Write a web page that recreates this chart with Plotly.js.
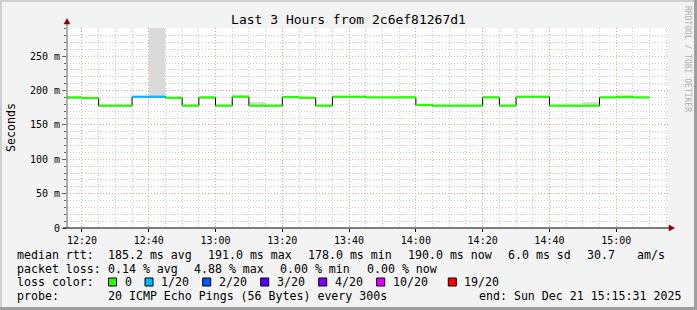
<!DOCTYPE html>
<html>
<head>
<meta charset="utf-8">
<script src="https://cdn.plot.ly/plotly-3.0.1.min.js"></script>
<style>
html,body{margin:0;padding:0;background:#f3f3f3;}
#chart{width:697px;height:310px;}
</style>
</head>
<body>
<div id="chart"></div>
<script>
// ---- data ----
const stepStartHHMM = ['12:15','12:20','12:25','12:30','12:35','12:40','12:45','12:50','12:55','13:00',
  '13:05','13:10','13:15','13:20','13:25','13:30','13:35','13:40','13:45','13:50',
  '13:55','14:00','14:05','14:10','14:15','14:20','14:25','14:30','14:35','14:40',
  '14:45','14:50','14:55','15:00','15:05'];
const lastStepEnd = '15:10';
const medianMs = [190,189,178,178,191,191,189.5,178,190,178,
  191,178,178,190.5,189.5,178,191,191,190,190,
  190,179,178,178,178,190,178,191,191,178,
  178,178,190,191,190];
const lossLevel = [0,0,0,0,1,1,0,0,0,0,
  0,0,0,0,0,0,0,0,0,0,
  0,0,0,0,0,0,0,0,0,0,
  0,0,0,0,0];
const smokeLo = [188,null,null,null,null,191,null,null,187,null,
  191,178,null,190.5,null,null,188.5,188.5,null,null,
  190,null,null,null,null,190,null,null,191,null,
  null,178,null,188,null];
const smokeHi = [190,null,null,null,null,291,null,null,190,null,
  193,184,null,192.5,null,null,191,191,null,null,
  192,null,null,null,null,192,null,null,192.5,null,
  null,184,null,191,null];
const lossLabels = ['0','1/20','2/20','3/20','4/20','10/20','19/20'];
const lossColors = ['#26ff00','#00b8ff','#0059ff','#5e00ff','#7e00ff','#dd00ff','#ff0000'];
const yTickVals = [0,50,100,150,200,250];
const yTickText = ['0','50 m','100 m','150 m','200 m','250 m'];
const day = '2025-12-21';
const rangeStart = day + ' 12:15:31';
const rangeEnd = day + ' 15:15:31';
const titleText = 'Last 3 Hours from 2c6ef81267d1';
const statsRtt = ['median rtt:','185.2 ms avg','191.0 ms max','178.0 ms min','190.0 ms now','6.0 ms sd','30.7','am/s'];
const statsLoss = ['packet loss:','0.14 % avg','4.88 % max','0.00 % min','0.00 % now'];
const probeLine = ['probe:','20 ICMP Echo Pings (56 Bytes) every 300s','end: Sun Dec 21 15:15:31 2025'];

// ---- layout geometry ----
const W = 697, H = 310;
const L = 67, R = 668, T = 28, B = 228;
const xp = px => (px - L) / (R - L);
const yp = py => (B - py) / (B - T);
const FONT = 'DejaVu Sans Mono';

const ts = hm => day + ' ' + hm + ':00';
const starts = stepStartHHMM.map(ts);
const ends = stepStartHHMM.slice(1).map(ts).concat([ts(lastStepEnd)]);

const traces = [];
// smoke
traces.push({
  type: 'bar',
  x: starts,
  base: smokeLo,
  y: smokeLo.map((lo, i) => lo === null ? null : smokeHi[i] - lo),
  width: 300000, offset: 0,
  marker: {color: '#dadada', line: {width: 0}},
  hoverinfo: 'skip', showlegend: false
});
// step connectors
traces.push({
  type: 'scatter', mode: 'lines',
  x: starts.concat([ends[ends.length - 1]]),
  y: medianMs.concat([medianMs[medianMs.length - 1]]),
  line: {shape: 'hv', color: '#000000', width: 1},
  hoverinfo: 'skip', showlegend: false
});
// colored median segments per loss level
lossColors.forEach((c, lvl) => {
  const x = [], y = [];
  medianMs.forEach((v, i) => {
    if (lossLevel[i] === lvl) { x.push(starts[i], ends[i], null); y.push(v, v, null); }
  });
  if (x.length) traces.push({type: 'scatter', mode: 'lines', x, y,
    line: {color: c, width: 2.2}, hoverinfo: 'skip', showlegend: false, connectgaps: false});
});

const annotations = [];
const shapes = [];
function txt(px, py, text, opts) {
  annotations.push(Object.assign({xref: 'paper', yref: 'paper', x: xp(px - 1), y: yp(py),
    xanchor: 'left', yanchor: 'middle', text, showarrow: false,
    font: {family: FONT, size: 11.6, color: '#000'}}, opts || {}));
}
// stats lines
const rttX = [16, 107, 207, 307, 407, 507, 586, 636];
statsRtt.forEach((s, i) => txt(rttX[i], 255, s));
const lossX = [16, 107, 193, 279, 366];
statsLoss.forEach((s, i) => txt(lossX[i], 268.5, s));
txt(16, 282, 'loss color:');
const boxX = [108.5, 145, 202.7, 260.7, 318.7, 376.7, 448.3];
lossLabels.forEach((lab, i) => {
  shapes.push({type: 'rect', xref: 'paper', yref: 'paper',
    x0: xp(boxX[i]), x1: xp(boxX[i] + 8), y0: yp(286), y1: yp(278),
    fillcolor: lossColors[i], line: {color: '#000', width: 1}});
  txt(boxX[i] + 15, 282, lab);
});
const probeX = [16, 107, 478];
probeLine.forEach((s, i) => txt(probeX[i], 295.5, s));

// y title
annotations.push({xref: 'paper', yref: 'paper', x: xp(11), y: yp(128), xanchor: 'center', yanchor: 'middle',
  text: 'Seconds', textangle: -90, showarrow: false, font: {family: FONT, size: 11.6, color: '#000'}});
// watermark
annotations.push({xref: 'paper', yref: 'paper', x: xp(688), y: yp(59), xanchor: 'center', yanchor: 'middle',
  text: 'RRDTOOL / TOBI OETIKER', textangle: 90, showarrow: false, font: {family: FONT, size: 8, color: '#b0b0b0'}});

// axis lines & arrows
shapes.push({type: 'line', xref: 'paper', yref: 'paper', x0: xp(67), x1: xp(67), y0: yp(228), y1: yp(23),
  line: {color: '#666', width: 1}});
shapes.push({type: 'line', xref: 'paper', yref: 'paper', x0: xp(63), x1: xp(670), y0: yp(228), y1: yp(228),
  line: {color: '#000', width: 1}});
shapes.push({type: 'path', xref: 'paper', yref: 'paper',
  path: `M ${xp(64)} ${yp(24)} L ${xp(70)} ${yp(24)} L ${xp(67)} ${yp(18.5)} Z`,
  fillcolor: '#8b0000', line: {color: '#8b0000', width: 0.5}});
shapes.push({type: 'path', xref: 'paper', yref: 'paper',
  path: `M ${xp(669)} ${yp(225)} L ${xp(669)} ${yp(231)} L ${xp(674.5)} ${yp(228)} Z`,
  fillcolor: '#8b0000', line: {color: '#8b0000', width: 0.5}});
// frame
shapes.push({type: 'rect', xref: 'paper', yref: 'paper', x0: xp(0), x1: xp(W), y0: yp(0), y1: yp(2),
  fillcolor: '#cfcfcf', line: {width: 0}});
shapes.push({type: 'rect', xref: 'paper', yref: 'paper', x0: xp(0), x1: xp(2), y0: yp(0), y1: yp(H),
  fillcolor: '#cfcfcf', line: {width: 0}});
shapes.push({type: 'rect', xref: 'paper', yref: 'paper', x0: xp(0), x1: xp(W), y0: yp(H - 3), y1: yp(H),
  fillcolor: '#9e9e9e', line: {width: 0}});
shapes.push({type: 'rect', xref: 'paper', yref: 'paper', x0: xp(W - 3), x1: xp(W), y0: yp(0), y1: yp(H),
  fillcolor: '#9e9e9e', line: {width: 0}});

const layout = {
  width: W, height: H,
  margin: {l: L, r: W - R, t: T, b: H - B, pad: 0},
  paper_bgcolor: '#f3f3f3', plot_bgcolor: '#ffffff',
  showlegend: false,
  bargap: 0,
  title: {text: titleText, xref: 'container', yref: 'container', x: 0.5, y: 1 - 19 / H,
    xanchor: 'center', yanchor: 'middle', font: {family: FONT, size: 13, color: '#000'}},
  xaxis: {
    type: 'date', range: [rangeStart, rangeEnd],
    tickmode: 'linear', tick0: day + ' 12:20:00', dtick: 1200000, tickformat: '%H:%M',
    showgrid: true, gridcolor: '#f2a0a0', griddash: '1px,2px', gridwidth: 1,
    ticks: 'outside', ticklen: 3, tickcolor: '#000',
    tickfont: {family: FONT, size: 10, color: '#000'},
    minor: {tickmode: 'linear', tick0: day + ' 12:20:00', dtick: 300000, showgrid: true,
      gridcolor: '#d0d0d0', griddash: '1px,2px', gridwidth: 1, ticks: ''},
    showline: false, zeroline: false, fixedrange: true
  },
  yaxis: {
    range: [0, 291], tickmode: 'array', tickvals: yTickVals, ticktext: yTickText,
    showgrid: true, gridcolor: '#f2a0a0', griddash: '1px,2px', gridwidth: 1,
    ticks: 'outside', ticklen: 4, tickcolor: '#666',
    tickfont: {family: FONT, size: 10, color: '#000'},
    minor: {tickmode: 'linear', tick0: 0, dtick: 10, showgrid: true,
      gridcolor: '#d0d0d0', griddash: '1px,2px', gridwidth: 1, ticks: 'outside', ticklen: 2, tickcolor: '#666'},
    showline: false, zeroline: false, fixedrange: true
  },
  annotations, shapes
};
Plotly.newPlot('chart', traces, layout, {displayModeBar: false, staticPlot: true});
</script>
</body>
</html>
